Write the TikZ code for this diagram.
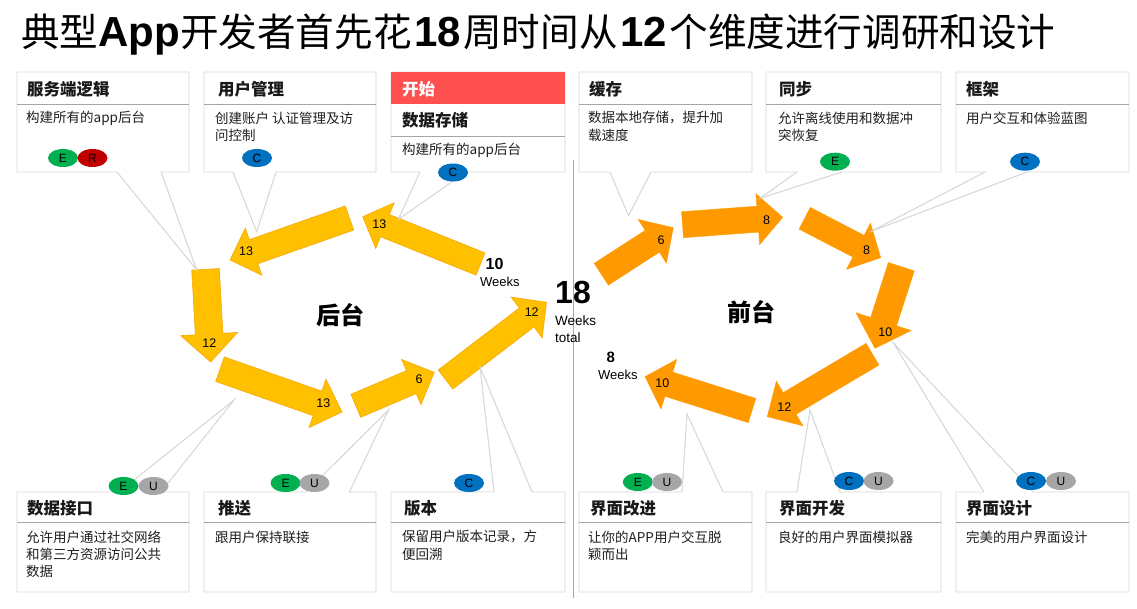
\documentclass[tikz,border=0pt]{standalone}
\usepackage{fontspec}
\setmainfont{Liberation Sans}
\newfontfamily\cjk{Noto Sans CJK SC}
\usetikzlibrary{calc,shapes.geometric}
\definecolor{boxline}{HTML}{D9D9D9}
\definecolor{sepline}{HTML}{A6A6A6}
\definecolor{gold}{HTML}{FFC000}
\definecolor{goldedge}{HTML}{F7A90A}
\definecolor{orng}{HTML}{FF9900}
\definecolor{redhdr}{HTML}{FF5050}
\definecolor{bgreen}{HTML}{00B050}
\definecolor{bred}{HTML}{C00000}
\definecolor{bblue}{HTML}{0070C0}
\definecolor{bgray}{HTML}{A6A6A6}
\definecolor{divline}{HTML}{A6A6A6}
\tikzset{
  callout/.style={draw=boxline, fill=white, line width=0.8pt},
  pointer/.style={draw=boxline, line width=0.8pt},
  sepl/.style={draw=sepline, line width=0.8pt},
  hdr/.style={anchor=west, inner sep=0pt, text=black!90, font=\cjk\bfseries\fontsize{16.5}{18}\selectfont},
  dsc/.style={anchor=west, inner sep=0pt, text=black!88, font=\cjk\fontsize{13.5}{15}\selectfont},
  badge/.style={ellipse, minimum width=30pt, minimum height=18pt, inner sep=0pt, font=\fontsize{12}{12}\selectfont},
  num/.style={inner sep=0pt, font=\fontsize{12.5}{13}\selectfont},
  goldarrow/.style={fill=gold, draw=goldedge, line width=0.6pt, line join=miter},
  orngarrow/.style={fill=orng, draw=orng, line width=0.4pt, line join=miter},
  wkbig/.style={anchor=west, inner sep=0pt, font=\bfseries\fontsize{16}{16}\selectfont},
  wksmall/.style={anchor=west, inner sep=0pt, font=\fontsize{13}{13}\selectfont},
  side/.style={inner sep=0pt, font=\cjk\bfseries\fontsize{24}{24}\selectfont}
}
% style, tail, tip, half shaft width, half head width, head length
\newcommand\blockarrow[6]{%
  \path ($(#3)!#6!(#2)$) coordinate (neck);
  \filldraw[#1] ($(#2)!#4!90:(#3)$) -- ($(neck)!#4!90:(#3)$) -- ($(neck)!#5!90:(#3)$) -- (#3)
     -- ($(neck)!#5!-90:(#3)$) -- ($(neck)!#4!-90:(#3)$) -- ($(#2)!#4!-90:(#3)$) -- cycle;
}
\begin{document}
\begin{tikzpicture}[x=1pt,y=-1pt]
\useasboundingbox (0,0) rectangle (1137,608);
\fill[white] (0,0) rectangle (1137,608);

% title
\node[anchor=west, inner sep=0pt] (title) at (21,35) {\fontsize{38.6}{40}\selectfont
  {\cjk 典型}{\bfseries\fontsize{42}{42}\selectfont App}{\cjk 开发者首先花}\hspace{2.5pt}{\bfseries\fontsize{42}{42}\selectfont 18}\hspace{2.5pt}{\cjk 周时间从}\hspace{2.5pt}{\bfseries\fontsize{42}{42}\selectfont 12}\hspace{2.5pt}{\cjk 个维度进行调研和设计}};

% divider
\draw[divline, line width=0.8pt] (573,160) -- (573,598);

% pointer tips
\coordinate (tp1) at (196.7,270);
\coordinate (tp2) at (256.7,231.7);
\coordinate (tp3) at (398.3,219.3);
\coordinate (tp4) at (628.5,215.7);
\coordinate (tp5) at (760,198.3);
\coordinate (tp6) at (870.4,231.7);
\coordinate (bp1) at (234,400);
\coordinate (bp2) at (388.5,410);
\coordinate (bp3) at (480,366.7);
\coordinate (bp4) at (687,414);
\coordinate (bp5) at (810,410);
\coordinate (bp6) at (893.3,342.7);

% top boxes
\draw[callout] (17,72) -- (189,72) -- (189,172) -- (161,172) -- (tp1) -- (117,172) -- (17,172) -- cycle;
\draw[callout] (204,72) -- (376,72) -- (376,172) -- (276,172) -- (tp2) -- (233,172) -- (204,172) -- cycle;
\draw[callout] (391,72) -- (565,72) -- (565,172) -- (466,172) -- (tp3) -- (420,172) -- (391,172) -- cycle;
\draw[callout] (579,72) -- (752,72) -- (752,172) -- (651,172) -- (tp4) -- (610,172) -- (579,172) -- cycle;
\draw[callout] (766,72) -- (941,72) -- (941,172) -- (842,172) -- (tp5) -- (797,172) -- (766,172) -- cycle;
\draw[callout] (956,72) -- (1129,72) -- (1129,172) -- (1027,172) -- (tp6) -- (985,172) -- (956,172) -- cycle;
\fill[redhdr] (391,72) rectangle (565,104);
\draw[sepl] (17,104) -- (189,104);
\draw[sepl] (204,104) -- (376,104);
\draw[sepl] (391,136) -- (565,136);
\draw[sepl] (579,104) -- (752,104);
\draw[sepl] (766,104) -- (941,104);
\draw[sepl] (956,104) -- (1129,104);

% bottom boxes
\draw[callout] (17,592) -- (17,492) -- (119,492) -- (bp1) -- (161,492) -- (189,492) -- (189,592) -- cycle;
\draw[callout] (204,592) -- (204,492) -- (306,492) -- (bp2) -- (349.4,492) -- (376,492) -- (376,592) -- cycle;
\draw[callout] (391,592) -- (391,492) -- (494,492) -- (bp3) -- (532,492) -- (565,492) -- (565,592) -- cycle;
\draw[callout] (579,592) -- (579,492) -- (682,492) -- (bp4) -- (723,492) -- (752,492) -- (752,592) -- cycle;
\draw[callout] (766,592) -- (766,492) -- (797,492) -- (bp5) -- (840,492) -- (941,492) -- (941,592) -- cycle;
\draw[callout] (956,592) -- (956,492) -- (984,492) -- (bp6) -- (1033,492) -- (1129,492) -- (1129,592) -- cycle;
\draw[sepl] (17,522) -- (189,522);
\draw[sepl] (204,522) -- (376,522);
\draw[sepl] (391,522) -- (565,522);
\draw[sepl] (579,522) -- (752,522);
\draw[sepl] (766,522) -- (941,522);
\draw[sepl] (956,522) -- (1129,522);

% top box texts
\node[hdr] (h1) at (27,89) {服务端逻辑};
\node[dsc] (d1) at (26,118) {构建所有的app后台};
\node[hdr] (h2) at (218,89) {用户管理};
\node[dsc] (d2a) at (215,118) {创建账户 认证管理及访};
\node[dsc] (d2b) at (215,135) {问控制};
\node[hdr, text=white] (h3a) at (402,89) {开始};
\node[hdr] (h3) at (402,120) {数据存储};
\node[dsc] (d3) at (402,150) {构建所有的app后台};
\node[hdr] (h4) at (589,89) {缓存};
\node[dsc] (d4a) at (588,118) {数据本地存储，提升加};
\node[dsc] (d4b) at (588,135) {载速度};
\node[hdr] (h5) at (779,89) {同步};
\node[dsc] (d5a) at (778,118) {允许离线使用和数据冲};
\node[dsc] (d5b) at (778,135) {突恢复};
\node[hdr] (h6) at (966,89) {框架};
\node[dsc] (d6) at (966,118) {用户交互和体验蓝图};

% bottom box texts
\node[hdr] (g1) at (27,508) {数据接口};
\node[dsc] (e1a) at (26,537) {允许用户通过社交网络};
\node[dsc] (e1b) at (26,554) {和第三方资源访问公共};
\node[dsc] (e1c) at (26,571) {数据};
\node[hdr] (g2) at (218,508) {推送};
\node[dsc] (e2) at (215,537) {跟用户保持联接};
\node[hdr] (g3) at (404,508) {版本};
\node[dsc] (e3a) at (402,537) {保留用户版本记录，方};
\node[dsc] (e3b) at (402,554) {便回溯};
\node[hdr] (g4) at (590,508) {界面改进};
\node[dsc] (e4a) at (588,537) {让你的APP用户交互脱};
\node[dsc] (e4b) at (588,554) {颖而出};
\node[hdr] (g5) at (779,508) {界面开发};
\node[dsc] (e5) at (778,537) {良好的用户界面模拟器};
\node[hdr] (g6) at (966,508) {界面设计};
\node[dsc] (e6) at (966,537) {完美的用户界面设计};

% arrows: left cycle
\coordinate (a1t) at (480.5,264);   \coordinate (a1p) at (362.7,216.7);
\coordinate (a2t) at (349.5,218);   \coordinate (a2p) at (230,260);
\coordinate (a3t) at (205.5,269.3); \coordinate (a3p) at (210.7,362);
\coordinate (a4t) at (220,369.2);   \coordinate (a4p) at (342,412);
\coordinate (a5t) at (355.8,405.8); \coordinate (a5p) at (434.3,372.3);
\coordinate (a6t) at (445.5,379.5); \coordinate (a6p) at (546.5,302.3);
\blockarrow{goldarrow}{a1t}{a1p}{12pt}{24.7pt}{24pt}
\blockarrow{goldarrow}{a2t}{a2p}{12.8pt}{25pt}{25pt}
\blockarrow{goldarrow}{a3t}{a3p}{13.8pt}{28.5pt}{28pt}
\blockarrow{goldarrow}{a4t}{a4p}{13pt}{25.7pt}{26pt}
\blockarrow{goldarrow}{a5t}{a5p}{12.5pt}{24.6pt}{25pt}
\blockarrow{goldarrow}{a6t}{a6p}{12pt}{25.7pt}{25pt}

% arrows: right cycle
\coordinate (b1t) at (601.3,274.2); \coordinate (b1p) at (673.3,227.7);
\coordinate (b2t) at (682.5,224.7); \coordinate (b2p) at (782.7,217.3);
\coordinate (b3t) at (804.7,218.3); \coordinate (b3p) at (880.7,257.7);
\coordinate (b4t) at (901.3,266.7); \coordinate (b4p) at (875,348.3);
\coordinate (b5t) at (872.5,354.2); \coordinate (b5p) at (767.3,416.7);
\coordinate (b6t) at (752,410.5);   \coordinate (b6p) at (645,376.7);
\blockarrow{orngarrow}{b1t}{b1p}{13pt}{26pt}{25pt}
\blockarrow{orngarrow}{b2t}{b2p}{13pt}{25.5pt}{25pt}
\blockarrow{orngarrow}{b3t}{b3p}{12.2pt}{26pt}{25pt}
\blockarrow{orngarrow}{b4t}{b4p}{13.6pt}{29pt}{28pt}
\blockarrow{orngarrow}{b5t}{b5p}{12.6pt}{26pt}{26pt}
\blockarrow{orngarrow}{b6t}{b6p}{12.7pt}{26pt}{25pt}

% pointer lines over arrows
\draw[pointer] (117,172) -- (tp1) -- (161,172);
\draw[pointer] (233,172) -- (tp2) -- (276,172);
\draw[pointer] (420,172) -- (tp3) -- (466,172);
\draw[pointer] (610,172) -- (tp4) -- (651,172);
\draw[pointer] (797,172) -- (tp5) -- (842,172);
\draw[pointer] (985,172) -- (tp6) -- (1027,172);
\draw[pointer] (119,492) -- (bp1) -- (161,492);
\draw[pointer] (306,492) -- (bp2) -- (349.4,492);
\draw[pointer] (494,492) -- (bp3) -- (532,492);
\draw[pointer] (682,492) -- (bp4) -- (723,492);
\draw[pointer] (797,492) -- (bp5) -- (840,492);
\draw[pointer] (984,492) -- (bp6) -- (1033,492);

% arrow numbers
\node[num] (n1) at (379.3,224) {13};
\node[num] (n2) at (246,251) {13};
\node[num] (n3) at (209.3,343.3) {12};
\node[num] (n4) at (323.3,403.3) {13};
\node[num] (n5) at (419,378.7) {6};
\node[num] (n6) at (531.7,312.3) {12};
\node[num] (m1) at (661,240) {6};
\node[num] (m2) at (766.7,220) {8};
\node[num] (m3) at (866.7,250) {8};
\node[num] (m4) at (885.3,331.7) {10};
\node[num] (m5) at (784.3,407.3) {12};
\node[num] (m6) at (662.3,382.7) {10};

% week labels
\node[wkbig] (w10) at (485.5,264) {10};
\node[wksmall] (w10s) at (480,282.3) {Weeks};
\node[anchor=west, inner sep=0pt, font=\bfseries\fontsize{32}{32}\selectfont] (w18) at (555,292) {18};
\node[wksmall, font=\fontsize{13.5}{14}\selectfont] (w18s) at (555,321) {Weeks};
\node[wksmall, font=\fontsize{13.5}{14}\selectfont] (w18t) at (555,338) {total};
\node[wkbig, font=\bfseries\fontsize{15}{15}\selectfont] (w8) at (606.5,357) {8};
\node[wksmall] (w8s) at (598,375) {Weeks};

% side titles
\node[side] (back) at (340,315) {后台};
\node[side] (front) at (751.7,311.7) {前台};

% badges
\node[badge, fill=bgreen] (k1e) at (63,158) {E};
\node[badge, fill=bred] (k1r) at (92.5,158) {R};
\node[badge, fill=bblue] (k2c) at (257,158) {C};
\node[badge, fill=bblue] (k3c) at (453,172.5) {C};
\node[badge, fill=bgreen] (k5e) at (835,161.7) {E};
\node[badge, fill=bblue] (k6c) at (1025,161.7) {C};
\node[badge, fill=bgreen] (j1e) at (123.5,486) {E};
\node[badge, fill=bgray] (j1u) at (153.5,486) {U};
\node[badge, fill=bgreen] (j2e) at (285.5,483) {E};
\node[badge, fill=bgray] (j2u) at (314.5,483) {U};
\node[badge, fill=bblue] (j3c) at (469,483) {C};
\node[badge, fill=bgreen] (j4e) at (637.8,482) {E};
\node[badge, fill=bgray] (j4u) at (667,482) {U};
\node[badge, fill=bblue] (j5c) at (849,481) {C};
\node[badge, fill=bgray] (j5u) at (878.5,481) {U};
\node[badge, fill=bblue] (j6c) at (1031,481) {C};
\node[badge, fill=bgray] (j6u) at (1061,481) {U};
\end{tikzpicture}
\end{document}
